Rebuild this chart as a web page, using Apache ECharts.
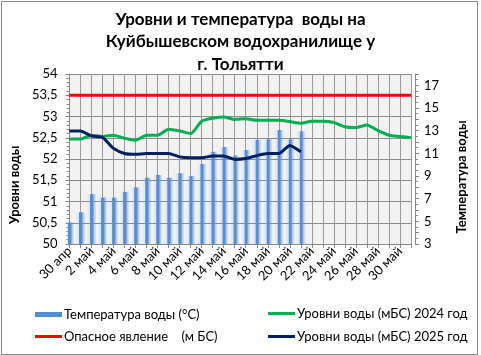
<!DOCTYPE html>
<html><head><meta charset="utf-8">
<script src="https://cdn.jsdelivr.net/npm/echarts@6/dist/echarts.min.js"></script>
<style>
html,body{margin:0;padding:0;background:#fff;}
#c{width:481px;height:355px;position:absolute;left:0;top:0;}
#b{position:absolute;left:1px;top:1px;width:475px;height:352px;border:1px solid #8a8a8a;pointer-events:none;}
</style></head>
<body><div id="c"></div><div id="b"></div>
<script>
const categories = ["30 апр","1 май","2 май","3 май","4 май","5 май","6 май","7 май","8 май","9 май","10 май",
  "11 май","12 май","13 май","14 май","15 май","16 май","17 май","18 май","19 май","20 май",
  "21 май","22 май","23 май","24 май","25 май","26 май","27 май","28 май","29 май","30 май","31 май"];
const waterTemp = [4.9,5.8,7.4,7.1,7.1,7.6,8.0,8.85,9.1,8.85,9.25,9.0,10.05,11.15,11.55,10.8,11.3,12.2,12.25,13.05,12.25,12.95];
const danger = [53.5,53.5,53.5,53.5,53.5,53.5,53.5,53.5,53.5,53.5,53.5,53.5,53.5,53.5,53.5,53.5,
  53.5,53.5,53.5,53.5,53.5,53.5,53.5,53.5,53.5,53.5,53.5,53.5,53.5,53.5,53.5,53.5];
const level2024 = [52.47,52.47,52.56,52.53,52.56,52.49,52.44,52.56,52.56,52.70,52.66,52.60,52.89,52.96,52.99,52.93,
  52.95,52.91,52.91,52.91,52.88,52.84,52.89,52.89,52.86,52.76,52.74,52.80,52.67,52.56,52.53,52.50];
const level2025 = [52.66,52.66,52.54,52.51,52.25,52.13,52.11,52.13,52.13,52.13,52.05,52.03,52.03,52.07,52.07,51.99,
  52.01,52.08,52.13,52.13,52.32,52.17];

const F = 'Lato, "Liberation Sans", sans-serif';
const chart = echarts.init(document.getElementById('c'), null, {renderer:'canvas'});
const lg = (name, left, top, h, color) => ({
  data:[{name:name, icon:'rect', itemStyle:{color:color}}], left:left, top:top, padding:0, itemWidth:27, itemHeight:h, itemGap:0,
  selectedMode:false, textStyle:{fontFamily:F, fontSize:13, color:'#000', padding:[0,0,0,-3]}
});
chart.setOption({
  animation:false,
  backgroundColor:'#fff',
  textStyle:{fontFamily:F},
  title:{text:'Уровни и температура  воды на\nКуйбышевском водохранилище у\nг. Тольятти', left:'center', top:3,
    textStyle:{fontFamily:F, fontSize:17, fontWeight:'bold', color:'#000', lineHeight:22.5}},
  legend:[
    lg('Температура воды (°C)', 35, 308, 5, '#558ed5'),
    lg('Опасное явление    (м БС)', 35, 330, 3, '#ff0000'),
    lg('Уровни воды (мБС) 2024 год', 268, 307, 3, '#00b050'),
    lg('Уровни воды (мБС) 2025 год', 268, 330, 3, '#002060')
  ],
  grid:{left:68, right:70, top:74, bottom:111, show:true, backgroundColor:'#f2f2f2', borderWidth:0},
  xAxis:{type:'category', data:categories, boundaryGap:false,
    axisLine:{lineStyle:{color:'#888', width:1}},
    axisTick:{show:true, interval:0, length:4, lineStyle:{color:'#888'}},
    axisLabel:{interval:1, rotate:45, margin:5, fontSize:13, color:'#000', fontFamily:F},
    splitLine:{show:true, interval:0, lineStyle:{color:'#9a9a9a', width:1}}
  },
  yAxis:[
    {type:'value', min:50, max:54, interval:0.5, position:'left',
     name:'Уровни воды', nameLocation:'middle', nameGap:48, nameRotate:90,
     nameTextStyle:{fontFamily:F, fontSize:13, fontWeight:'bold', color:'#000', padding:[0,52,0,0]},
     axisLine:{show:true, lineStyle:{color:'#888'}},
     axisTick:{show:true, length:4, lineStyle:{color:'#888'}},
     minorTick:{show:true, splitNumber:5, length:3, lineStyle:{color:'#888'}},
     axisLabel:{fontSize:13, color:'#000', margin:12, fontFamily:F, formatter:v=>String(v).replace('.',',')},
     splitLine:{show:true, lineStyle:{color:'#8c8c8c', width:1}}
    },
    {type:'value', min:3, max:18, interval:1, position:'right', offset:4,
     name:'Температура воды', nameLocation:'middle', nameGap:40, nameRotate:90,
     nameTextStyle:{fontFamily:F, fontSize:13, fontWeight:'bold', color:'#000', padding:[0,36,0,0]},
     axisLine:{show:true, lineStyle:{color:'#888'}},
     axisTick:{show:true, length:4, lineStyle:{color:'#888'}},
     minorTick:{show:true, splitNumber:2, length:3, lineStyle:{color:'#888'}},
     axisLabel:{fontSize:13, color:'#000', margin:9, fontFamily:F, formatter:v=>(v%2===1?String(v):'')},
     splitLine:{show:false}
    }
  ],
  series:[
    {name:'Температура воды (°C)', type:'bar', yAxisIndex:1, data:waterTemp, barWidth:10,
     itemStyle:{color:{type:'linear', x:0, y:0, x2:1, y2:0, colorStops:[
       {offset:0, color:'rgba(85,142,213,0)'},
       {offset:0.36, color:'rgba(85,142,213,0.15)'},
       {offset:0.4, color:'#558ed5'},
       {offset:0.62, color:'#558ed5'},
       {offset:0.75, color:'rgba(85,142,213,0.45)'},
       {offset:1, color:'rgba(85,142,213,0)'}]}}},
    {name:'Опасное явление    (м БС)', type:'line', yAxisIndex:0, data:danger, symbol:'none',
     itemStyle:{color:'#ff0000'}, lineStyle:{color:'#ff0000', width:3}},
    {name:'Уровни воды (мБС) 2024 год', type:'line', yAxisIndex:0, data:level2024, symbol:'none', smooth:0.2,
     itemStyle:{color:'#00b050'}, lineStyle:{color:'#00b050', width:3}},
    {name:'Уровни воды (мБС) 2025 год', type:'line', yAxisIndex:0, data:level2025, symbol:'none', smooth:0.2,
     itemStyle:{color:'#002060'}, lineStyle:{color:'#002060', width:3}}
  ]
});
</script></body></html>
